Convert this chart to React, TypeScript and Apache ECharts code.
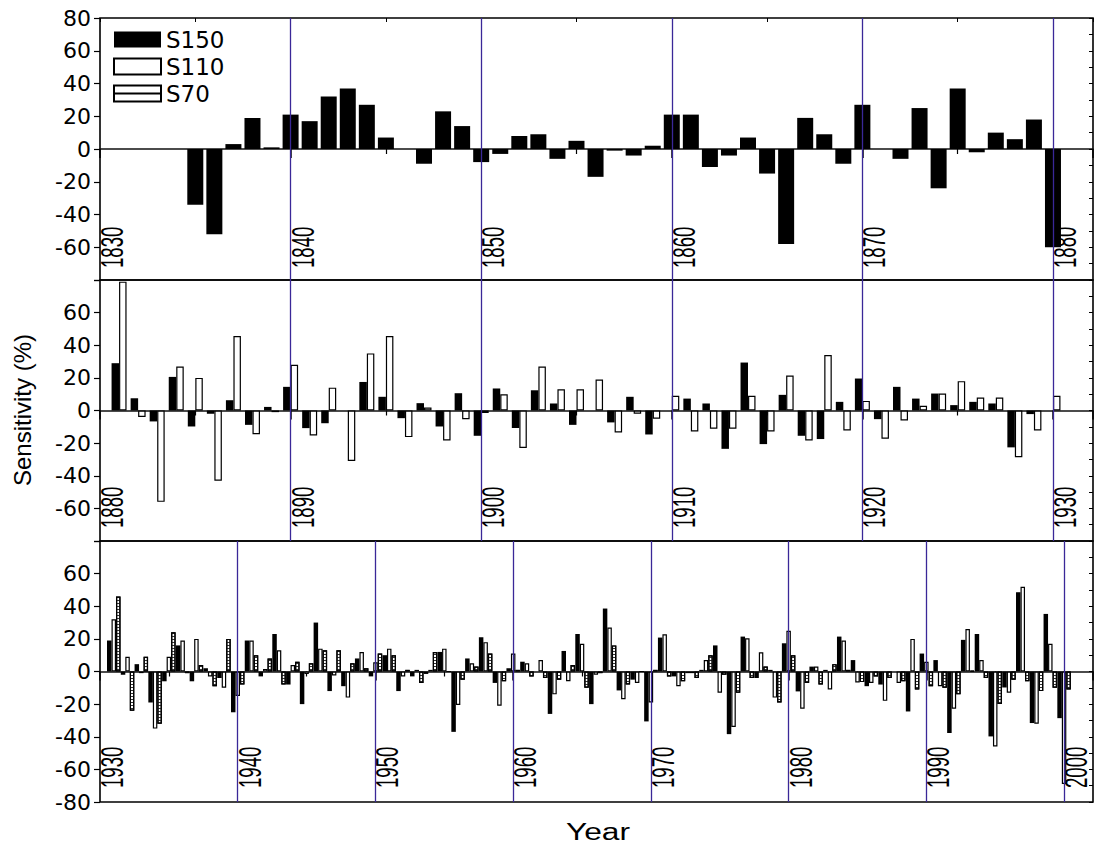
import React, { useEffect, useRef } from "react";
import * as echarts from "echarts";

// ---------- data ----------
const P1_START = 1830;
const P1_S150 = [null, null, null, null, null, -34, -52, 3, 19, 1, 21, 17, 32, 37, 27, 7, null, -9, 23, 14, -8, -3, 8, 9, -6, 5, -17, -1, -4, 2, 21, 21, -11, -4, 7, -15, -58, 19, 9, -9, 27, null, -6, 25, -24, 37, -2, 10, 6, 18, -60];

const P2_START = 1880;
const P2_S150 = [null, 29, 7.5, -6.7, 20.6, -9.8, -2, 6.3, -8.8, 2.2, 14.5, -10.8, -7.8, null, 17.5, 8.4, -4.7, 4.5, -9.8, 10.6, -15.5, 13.5, -10.8, 12.4, 4.3, -8.8, null, -7.3, 8.4, -14.7, null, 7.3, 4.3, -23.5, 29.4, -20.6, 9.6, -15.5, -17.5, 5.3, 19.6, -5.3, 14.5, 7.3, 10.4, 3.3, 5.3, 4.3, -22.6, -2.2, null];
const P2_S110 = [null, 79, -4, -56, 27, 20, -43, 45.7, -14.5, -1, 28, -15.3, 14, -31, 35, 45.7, -16.3, 1.8, -18.4, -5.3, -1.5, 10, -23, 27, 13, 13, 19, -13.5, -2, -5, 9, -12.8, -11.2, -11.2, 9, -12.8, 21.4, -18.4, 34, -12.2, 5.9, -17.3, -6.1, 2.9, 10.4, 18, 8, 8, -28.7, -12.2, 9];

const P3_START = 1930;
const P3_S150 = [null, 19, -2, 4.5, -19, -6, 16, -6, 2, -4, -25, 19, -3, 23, -8, -20, 30, -12, -9, 8, -3, 10, -12, -3, -1.5, 12, -37, 8, 21, -7, 2, 6, null, -26, 12.6, 23, -20, 38.6, -11.6, -5, -30.6, 20.8, -3, -1, 1, 16, -38.4, 21.4, -4, 1, 17.3, -12.2, 3, 1, 21.4, 7, -9, -8, null, -24.5, 11, 7, -37.7, 19.4, 23, -39.8, -9.8, 48.6, -31.6, 35.3, -28.6];
const P3_S110 = [null, 32, 9, -1, -35, 9, 19, 20, -3, -10, -15, 19, 1.6, 13, 4, -1.6, 14, -2.4, -16, 12, 5.7, 14, -3, 1, 1, 14, -20.5, 5, 18, -21, 11, 5, 7, -14, -6, 17, -2, 27, -17, -7, -19, 22.8, -9, -1, 7, -13, -34, 20.4, 11.8, -16, 25, -22.8, 3, -11, 19, -6.7, -7, -18, -7, 20, 6, -9, -22.8, 26, 7, -46, -13, 52, -32, 17, -69];
const P3_S70 = [null, 46, -24, 9, -32, 24, -1, 4, -9, 20, -8, 10, 8, -8, 6, 5, 13, 13, 5, 2, 11, 10, 1, -7, 12, 0, -5, 3, 11, -6, 1, -3, -4, -5, 4, -10, -1, 16, -8, 0, 1, -3, -6, -4, 10, -2, -13, -4, 3, -19, 10, -7, -8, 4.5, 1, -6.5, -3, -4, -6, -11, -9, -10, -14, 0.4, -4, -20, -5, -6, -12, -10, -11];

const P1_DECADES = [1830, 1840, 1850, 1860, 1870, 1880];
const P2_DECADES = [1880, 1890, 1900, 1910, 1920, 1930];
const P3_DECADES = [1930, 1940, 1950, 1960, 1970, 1980, 1990, 2000];

const P1_Y_LABELS = ["80", "60", "40", "20", "0", "-20", "-40", "-60"];
const P2_Y_LABELS = ["60", "40", "20", "0", "-20", "-40", "-60"];
const P3_Y_LABELS = ["60", "40", "20", "0", "-20", "-40", "-60", "-80"];

const Y_TITLE = "Sensitivity (%)";
const X_TITLE = "Year";

// ---------- styles / layout ----------
const FONT = '"Liberation Sans", Arial, sans-serif';
const WIDE = '"DejaVu Sans", "Liberation Sans", sans-serif';
const PURPLE = "#3a2898";

const DECAL_S70 = {
  symbol: "rect",
  symbolSize: 1,
  dashArrayX: [1, 0],
  dashArrayY: [1, 1.6],
  rotation: 0,
  color: "#333",
};

const STYLES: Record<string, any> = {
  S150: { color: "#000" },
  S110: { color: "#fff", borderColor: "#000", borderWidth: 1.2 },
  S70: { color: "#fff", borderColor: "#000", borderWidth: 1.2, decal: DECAL_S70 },
};

const PANELS = [
  { start: P1_START, max: 1882.1, decades: P1_DECADES, yLabels: P1_Y_LABELS, top: 18, height: 262, labelGap: 12, barWidth: 16, topTicks: true,
    series: [{ name: "S150", data: P1_S150 }] },
  { start: P2_START, max: 1932.1, decades: P2_DECADES, yLabels: P2_Y_LABELS, top: 280, height: 261, labelGap: 13, barWidth: 7.5, topTicks: false,
    series: [{ name: "S150", data: P2_S150 }, { name: "S110", data: P2_S110 }] },
  { start: P3_START, max: 2002.1, decades: P3_DECADES, yLabels: P3_Y_LABELS, top: 541, height: 261, labelGap: 14, barWidth: 4.5, topTicks: false,
    series: [{ name: "S150", data: P3_S150 }, { name: "S110", data: P3_S110 }, { name: "S70", data: P3_S70 }] },
];

export default function App() {
  const ref = useRef<HTMLDivElement>(null);

  useEffect(() => {
    const chart = echarts.init(ref.current!, null, { renderer: "svg" });

    const grid: any[] = [];
    const xAxis: any[] = [];
    const yAxis: any[] = [];
    const series: any[] = [];
    const mainX: number[] = [];
    const leftY: number[] = [];

    PANELS.forEach((p, gi) => {
      grid.push({ left: 100, top: p.top, width: 993, height: p.height, show: true, borderColor: "#000", borderWidth: 1.6, backgroundColor: "transparent" });

      mainX.push(xAxis.length);
      xAxis.push({
        type: "value", gridIndex: gi, min: p.start, max: p.max, interval: 10, position: "bottom",
        axisLine: { show: true, onZero: true, lineStyle: { color: "#111", width: 1.5 } },
        axisTick: { show: true, length: 9, lineStyle: { color: "#000", width: 1.5 } },
        minorTick: { show: true, splitNumber: 2, length: 5, lineStyle: { color: "#000", width: 1.2 } },
        axisLabel: { show: false }, splitLine: { show: false },
      });
      if (p.topTicks) {
        xAxis.push({
          type: "value", gridIndex: gi, min: p.start, max: p.max, interval: 5, position: "top",
          axisLine: { show: false, onZero: false },
          axisTick: { show: true, inside: true, length: 4, lineStyle: { color: "#000", width: 1 } },
          axisLabel: { show: false }, splitLine: { show: false },
        });
      }

      leftY.push(yAxis.length);
      const labels = p.yLabels;
      yAxis.push({
        type: "value", gridIndex: gi, min: -80, max: 80, interval: 20, position: "left",
        axisLine: { show: false },
        axisTick: { show: true, length: 6, lineStyle: { color: "#000", width: 1.2 } },
        axisLabel: { show: true, margin: 9, color: "#000", fontSize: 22, fontFamily: WIDE,
          formatter: (v: number) => (labels.includes(String(v)) ? String(v) : "") },
        splitLine: { show: false },
      });
      yAxis.push({
        type: "value", gridIndex: gi, min: -80, max: 80, interval: 10, position: "right",
        axisLine: { show: false },
        axisTick: { show: true, inside: true, length: 4, lineStyle: { color: "#000", width: 1 } },
        axisLabel: { show: false }, splitLine: { show: false },
      });

      p.series.forEach((s) => {
        const data: any[] = [];
        s.data.forEach((v, i) => { if (v !== null) data.push([p.start + i, v]); });
        series.push({
          type: "bar", name: s.name, xAxisIndex: mainX[gi], yAxisIndex: leftY[gi],
          data, barWidth: p.barWidth, barGap: "0%", itemStyle: STYLES[s.name],
          emphasis: { disabled: true }, silent: true, z: 2,
        });
      });

      series.push({
        type: "line", name: "decades-" + gi, xAxisIndex: mainX[gi], yAxisIndex: leftY[gi],
        data: [], z: 5, silent: true, symbol: "none",
        markLine: {
          silent: true, symbol: ["none", "none"], label: { show: false },
          lineStyle: { color: PURPLE, width: 1.3, type: "solid", opacity: 1 },
          emphasis: { disabled: true },
          data: p.decades.slice(1).map((d) => ({ xAxis: d })),
        },
      });
    });

    const option: any = {
      animation: false,
      backgroundColor: "#fff",
      grid, xAxis, yAxis, series,
      legend: {
        data: [
          { name: "S150" },
          { name: "S110" },
          { name: "S70", icon: "path://M0,0 H47 V16 H0 Z M0,8 H47", itemStyle: { decal: "none" } },
        ],
        orient: "vertical", left: 113, top: 28, padding: 0, itemWidth: 47, itemHeight: 16, itemGap: 4,
        icon: "rect", selectedMode: false,
        textStyle: { fontSize: 23, fontFamily: WIDE, color: "#000" },
      },
    };
    chart.setOption(option);

    const graphic: any[] = [];
    PANELS.forEach((p, gi) => {
      const yb = chart.convertToPixel({ yAxisIndex: leftY[gi] }, -80) as number;
      p.decades.forEach((d) => {
        const x = chart.convertToPixel({ xAxisIndex: mainX[gi] }, d) as number;
        graphic.push({
          type: "text", x: x + 12, y: yb - p.labelGap, rotation: Math.PI / 2, scaleX: 0.6, silent: true,
          style: { text: String(d), fontSize: 31, fontFamily: FONT, fill: "#000",
            align: "left", textAlign: "left", verticalAlign: "middle", textVerticalAlign: "middle" },
        });
      });
    });
    graphic.push({
      type: "text", x: 22, y: 410, rotation: Math.PI / 2, silent: true,
      style: { text: Y_TITLE, fontSize: 24, fontFamily: FONT, fill: "#000",
        align: "center", textAlign: "center", verticalAlign: "middle", textVerticalAlign: "middle" },
    });
    graphic.push({
      type: "text", x: 598, y: 832, scaleX: 1.38, silent: true,
      style: { text: X_TITLE, fontSize: 23, fontFamily: FONT, fill: "#000",
        align: "center", textAlign: "center", verticalAlign: "middle", textVerticalAlign: "middle" },
    });
    chart.setOption({ graphic });

    return () => chart.dispose();
  }, []);

  return (
    <div
      ref={ref}
      style={{ position: "fixed", left: 0, top: 0, width: 1094, height: 857, background: "#fff" }}
    />
  );
}
